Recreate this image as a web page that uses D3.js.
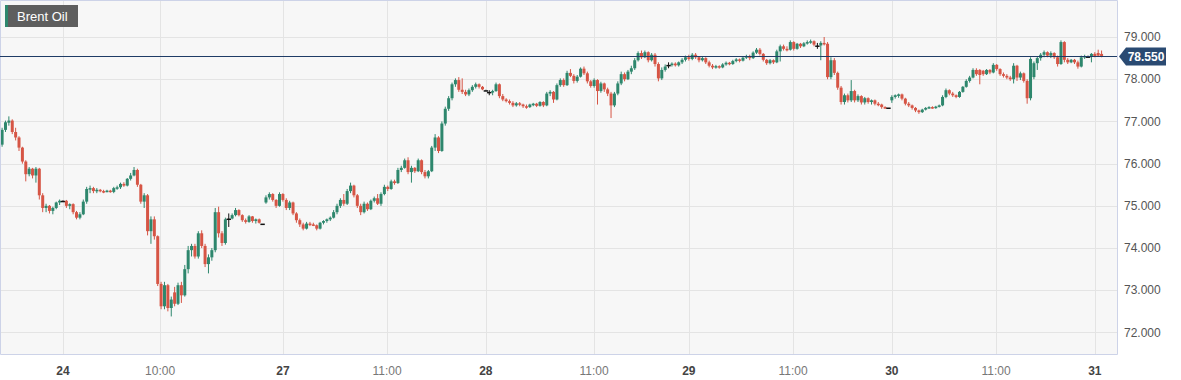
<!DOCTYPE html>
<html>
<head>
<meta charset="utf-8">
<script src="https://cdn.jsdelivr.net/npm/d3@7"></script>
<style>
  body { margin: 0; background: #fff; }
  svg { display: block; font-family: "Liberation Sans", Arial, sans-serif; }
</style>
</head>
<body>
<svg width="1181" height="380"></svg>
<script>
// candles as [open, high, low, close], one array per session
const day23 = [
  [76.45,76.85,76.40,76.80],[76.80,77.02,76.75,76.98],[76.97,77.12,76.90,77.02],[77.02,77.05,76.70,76.75],
  [76.75,76.85,76.55,76.62],[76.62,76.65,76.30,76.38],[76.38,76.40,76.00,76.05],[76.05,76.08,75.58,75.75],
  [75.75,75.92,75.70,75.88],[75.88,75.90,75.65,75.72],[75.72,75.92,75.55,75.88],[75.88,75.90,75.15,75.25],
  [75.25,75.30,74.85,74.95],[74.95,75.05,74.85,75.00],[75.00,75.02,74.82,74.88],[74.88,74.98,74.80,74.95],
  [74.95,75.10,74.92,75.08],[75.08,75.15,75.02,75.12]
];
const day24 = [
  [75.12,75.13,75.11,75.12],[75.12,75.14,74.95,75.00],[75.00,75.06,74.92,75.04],[75.04,75.06,74.80,74.85],
  [74.85,74.88,74.68,74.72],[74.72,74.85,74.68,74.80],[74.80,75.15,74.78,75.10],[75.10,75.45,75.05,75.40],
  [75.40,75.48,75.30,75.42],[75.42,75.45,75.30,75.35],[75.35,75.42,75.30,75.38],[75.38,75.40,75.32,75.35],
  [75.35,75.38,75.30,75.34],[75.34,75.38,75.32,75.36],[75.36,75.38,75.31,75.33],[75.33,75.45,75.30,75.42],
  [75.42,75.48,75.38,75.44],[75.44,75.55,75.40,75.52],[75.52,75.56,75.45,75.48],[75.48,75.66,75.46,75.64],
  [75.64,75.78,75.60,75.72],[75.72,75.92,75.70,75.85],[75.85,75.88,75.45,75.50],[75.50,75.52,75.05,75.10],
  [75.10,75.30,74.95,75.25],[75.25,75.28,74.30,74.40],[74.40,74.75,74.10,74.68],[74.68,74.75,74.20,74.28],
  [74.28,74.30,73.10,73.15],[73.15,73.20,72.55,72.62],[72.62,73.20,72.55,73.12],[73.12,73.15,72.50,72.58],
  [72.58,72.85,72.38,72.78],[72.95,73.08,72.62,72.68],[72.68,73.18,72.65,73.12],[73.12,73.20,72.70,72.88],
  [72.88,73.60,72.85,73.50],[73.50,74.05,73.40,73.95],[73.95,74.10,73.80,74.05],[74.05,74.10,73.75,73.80],
  [73.80,74.40,73.75,74.35],[74.35,74.42,74.00,74.05],[74.05,74.10,73.55,73.62],[73.62,73.85,73.40,73.78],
  [73.78,74.00,73.70,73.95],[73.95,74.95,73.90,74.85],[74.85,74.98,74.25,74.35],[74.35,74.40,74.05,74.12],
  [74.12,74.72,74.08,74.68],[74.70,74.82,74.50,74.70],[74.70,74.82,74.68,74.78],[74.78,74.95,74.75,74.90],
  [74.90,74.92,74.75,74.78],[74.78,74.80,74.62,74.66],[74.66,74.70,74.58,74.62],[74.62,74.78,74.60,74.75],
  [74.75,74.76,74.60,74.64],[74.64,74.70,74.58,74.68],[74.68,74.70,74.58,74.60],[74.58,74.58,74.58,74.58]
];
const day27 = [
  [75.08,75.25,75.05,75.20],[75.20,75.32,75.15,75.28],[75.28,75.30,75.10,75.14],[75.14,75.16,74.95,75.00],
  [75.00,75.32,74.98,75.28],[75.28,75.30,75.10,75.14],[75.14,75.18,74.90,74.95],[74.95,75.12,74.90,75.08],
  [75.08,75.10,74.78,74.82],[74.82,74.85,74.60,74.66],[74.66,74.70,74.50,74.56],[74.56,74.60,74.42,74.46],
  [74.46,74.62,74.44,74.58],[74.58,74.62,74.52,74.56],[74.56,74.60,74.52,74.54],[74.54,74.56,74.42,74.46],
  [74.46,74.62,74.44,74.60],[74.60,74.66,74.56,74.64],[74.64,74.70,74.60,74.68],[74.68,74.75,74.64,74.72],
  [74.72,74.90,74.70,74.85],[74.85,75.05,74.80,75.00],[75.00,75.18,74.95,75.14],[75.14,75.28,75.00,75.05],
  [75.05,75.40,75.02,75.35],[75.35,75.55,75.30,75.48],[75.48,75.50,75.20,75.25],[75.25,75.28,74.95,75.00],
  [75.00,75.05,74.78,74.85],[74.85,75.10,74.82,75.05],[75.05,75.08,74.88,74.92],[74.92,75.15,74.90,75.12],
  [75.12,75.22,75.08,75.18],[75.18,75.28,75.02,75.05],[75.05,75.32,75.00,75.28],[75.28,75.50,75.25,75.45],
  [75.45,75.48,75.35,75.40],[75.40,75.62,75.38,75.58],[75.58,75.62,75.50,75.54],[75.54,75.90,75.52,75.85],
  [75.85,75.95,75.80,75.90],[75.90,76.12,75.88,76.08],[76.08,76.15,75.75,75.80],[75.80,75.95,75.55,75.90],
  [75.90,75.92,75.78,75.82],[75.82,76.12,75.80,76.08],[76.08,76.10,75.75,75.80],[75.80,75.85,75.65,75.70],
  [75.70,75.85,75.65,75.82],[75.82,76.42,75.80,76.38],[76.38,76.70,76.30,76.62],[76.62,76.65,76.25,76.30],
  [76.30,77.00,76.28,76.95],[76.95,77.35,76.90,77.30],[77.30,77.60,77.25,77.55],[77.55,77.92,77.50,77.88],
  [77.88,78.02,77.82,77.98],[77.98,78.05,77.70,77.75],[77.75,78.02,77.65,77.70],[77.70,77.75,77.60,77.64],
  [77.64,77.78,77.60,77.74],[77.74,77.86,77.70,77.82],[77.82,77.92,77.78,77.88],[77.88,77.90,77.78,77.82],
  [77.82,77.84,77.74,77.76]
];
const day28 = [
  [77.74,77.75,77.73,77.74],[77.70,77.74,77.62,77.70],[77.70,77.75,77.62,77.72],[77.72,77.92,77.70,77.88],
  [77.88,77.90,77.55,77.60],[77.60,77.65,77.48,77.52],[77.52,77.55,77.45,77.48],[77.48,77.52,77.40,77.44],
  [77.44,77.48,77.34,77.38],[77.38,77.46,77.35,77.43],[77.43,77.46,77.36,77.40],[77.40,77.42,77.32,77.36],
  [77.36,77.40,77.30,77.34],[77.34,77.42,77.32,77.40],[77.40,77.44,77.36,77.42],[77.42,77.44,77.34,77.37],
  [77.37,77.48,77.35,77.46],[77.46,77.48,77.34,77.38],[77.38,77.70,77.36,77.66],[77.66,77.74,77.60,77.70],
  [77.70,77.72,77.44,77.52],[77.52,77.90,77.50,77.86],[77.86,78.02,77.82,77.98],[77.98,78.02,77.82,77.86],
  [77.86,78.20,77.84,78.15],[78.15,78.24,78.05,78.08],[78.08,78.12,77.90,77.96],[77.96,78.10,77.92,78.06],
  [78.06,78.28,78.04,78.25],[78.25,78.30,78.10,78.14],[78.14,78.18,77.90,77.95],[77.95,77.98,77.80,77.84],
  [77.84,78.02,77.80,77.98],[77.98,78.00,77.40,77.72],[77.72,77.94,77.68,77.90],[77.90,77.92,77.70,77.76],
  [77.76,77.80,77.60,77.66],[77.66,77.70,77.08,77.38],[77.38,77.70,77.34,77.66],[77.66,77.95,77.62,77.90],
  [77.90,78.18,77.86,78.12],[78.12,78.16,77.95,78.00],[78.00,78.22,77.98,78.18],[78.18,78.32,78.12,78.26],
  [78.26,78.50,78.22,78.45],[78.45,78.66,78.42,78.62],[78.62,78.68,78.48,78.52],[78.52,78.68,78.50,78.64],
  [78.64,78.66,78.40,78.45],[78.45,78.62,78.42,78.58],[78.58,78.62,78.30,78.36],[78.36,78.40,77.95,78.02],
  [78.02,78.28,77.98,78.22],[78.22,78.35,78.18,78.30],[78.34,78.40,78.26,78.34],[78.34,78.40,78.30,78.37],
  [78.37,78.40,78.30,78.33],[78.33,78.42,78.30,78.40],[78.40,78.50,78.36,78.46],[78.46,78.56,78.42,78.52]
];
const day29 = [
  [78.52,78.58,78.44,78.48],[78.48,78.62,78.45,78.58],[78.58,78.62,78.48,78.52],[78.52,78.55,78.40,78.45],
  [78.45,78.54,78.42,78.50],[78.50,78.52,78.36,78.40],[78.40,78.44,78.28,78.32],[78.32,78.36,78.24,78.28],
  [78.28,78.34,78.25,78.31],[78.31,78.33,78.25,78.28],[78.28,78.38,78.26,78.35],[78.35,78.42,78.32,78.39],
  [78.39,78.41,78.33,78.36],[78.36,78.46,78.34,78.43],[78.43,78.50,78.40,78.47],[78.47,78.49,78.40,78.44],
  [78.44,78.54,78.42,78.51],[78.51,78.58,78.48,78.55],[78.55,78.58,78.45,78.50],[78.50,78.66,78.48,78.63],
  [78.63,78.74,78.60,78.70],[78.70,78.74,78.56,78.60],[78.60,78.62,78.42,78.46],[78.46,78.48,78.34,78.38],
  [78.38,78.48,78.35,78.45],[78.45,78.47,78.36,78.40],[78.40,78.70,78.38,78.66],[78.66,78.82,78.42,78.78],
  [78.78,78.82,78.68,78.72],[78.72,78.78,78.66,78.70],[78.70,78.92,78.68,78.88],[78.88,78.90,78.68,78.72],
  [78.72,78.86,78.70,78.84],[78.84,78.86,78.74,78.78],[78.78,78.88,78.76,78.85],[78.85,78.92,78.82,78.88],
  [78.88,78.94,78.84,78.90],[78.90,78.92,78.78,78.82],[78.80,78.86,78.72,78.80],[78.80,78.90,78.45,78.86],
  [78.86,79.00,78.80,78.84],[78.84,78.88,78.00,78.05],[78.05,78.52,78.00,78.45],[78.45,78.50,78.10,78.15],
  [78.15,78.18,77.75,77.80],[77.80,77.84,77.40,77.46],[77.46,77.66,77.40,77.62],[77.62,77.66,77.45,77.50],
  [77.50,77.98,77.46,77.72],[77.72,77.75,77.45,77.50],[77.50,77.64,77.46,77.60],[77.60,77.62,77.40,77.45],
  [77.45,77.58,77.40,77.55],[77.55,77.57,77.42,77.46],[77.46,77.52,77.40,77.50],[77.50,77.52,77.38,77.42],
  [77.42,77.46,77.36,77.40],[77.40,77.42,77.30,77.34],[77.34,77.36,77.30,77.32],[77.33,77.33,77.33,77.33]
];
const day30 = [
  [77.50,77.62,77.44,77.58],[77.58,77.64,77.54,77.62],[77.62,77.66,77.56,77.64],[77.64,77.66,77.50,77.54],
  [77.54,77.56,77.38,77.42],[77.42,77.46,77.34,77.38],[77.38,77.40,77.28,77.32],[77.32,77.34,77.22,77.26],
  [77.26,77.28,77.18,77.22],[77.22,77.30,77.20,77.28],[77.28,77.34,77.26,77.32],[77.32,77.36,77.30,77.34],
  [77.34,77.36,77.30,77.32],[77.32,77.37,77.30,77.35],[77.35,77.40,77.33,77.38],[77.38,77.62,77.36,77.58],
  [77.58,77.78,77.55,77.74],[77.74,77.76,77.62,77.66],[77.66,77.70,77.58,77.62],[77.62,77.64,77.55,77.58],
  [77.58,77.72,77.56,77.70],[77.70,77.84,77.68,77.82],[77.82,78.00,77.80,77.96],[77.96,78.08,77.92,78.04],
  [78.04,78.26,78.02,78.22],[78.22,78.26,78.08,78.12],[78.22,78.24,77.88,78.10],[78.20,78.22,78.08,78.12],
  [78.12,78.24,78.10,78.22],[78.22,78.24,78.12,78.16],[78.16,78.38,78.14,78.34],[78.34,78.36,78.20,78.24],
  [78.24,78.26,78.08,78.12],[78.12,78.16,78.04,78.08],[78.08,78.12,78.00,78.04],[78.04,78.08,77.96,78.00],
  [78.00,78.38,77.90,78.32],[78.32,78.34,77.96,78.04],[78.04,78.18,77.98,78.14],[78.14,78.16,77.92,77.96],
  [77.96,78.00,77.42,77.55],[77.55,78.52,77.50,78.48],[78.05,78.42,78.00,78.38],[78.38,78.54,78.22,78.50],
  [78.50,78.62,78.44,78.58],[78.58,78.68,78.52,78.64],[78.64,78.66,78.52,78.56],[78.56,78.66,78.50,78.62],
  [78.62,78.64,78.48,78.52],[78.52,78.56,78.30,78.36],[78.36,78.92,78.34,78.88],[78.88,78.90,78.40,78.46],
  [78.46,78.50,78.36,78.40],[78.40,78.48,78.38,78.46],[78.46,78.48,78.36,78.40],[78.40,78.44,78.25,78.30],
  [78.30,78.56,78.28,78.52],[78.52,78.58,78.48,78.55],[78.54,78.56,78.52,78.54],[78.54,78.62,78.40,78.60]
];
const day31 = [
  [78.60,78.64,78.52,78.55],[78.62,78.70,78.54,78.56],[78.60,78.68,78.52,78.55]
];

const lastPrice = 78.55;
const yTicks = [72, 73, 74, 75, 76, 77, 78, 79];
const xTickIdx = [18, 46.7, 83, 113.8, 143, 175, 203, 233.8, 263, 293.8, 323];
const xTickText = ["24", "10:00", "27", "11:00", "28", "11:00", "29", "11:00", "30", "11:00", "31"];
const xTickIsDay = [true, false, true, false, true, false, true, false, true, false, true];

const candles = [].concat(day23, day24, day27, day28, day29, day30, day31);

const svg = d3.select("svg");
const plotW = 1117, plotH = 354;
const green = "#2e876d", red = "#d65545";

const x = d3.scaleLinear().domain([0, candles.length - 1]).range([2.1, 2.1 + (candles.length - 1) * 3.383]);
const y = d3.scaleLinear().domain([71.49, 79.877]).range([plotH, 0]);

// plot background
svg.append("rect").attr("x", 0).attr("y", 0).attr("width", plotW).attr("height", plotH).attr("fill", "#f7f7f7");

// grid
svg.append("g").selectAll("line").data(yTicks).enter().append("line")
  .attr("x1", 0).attr("x2", plotW)
  .attr("y1", d => Math.round(y(d)) + 0.5).attr("y2", d => Math.round(y(d)) + 0.5)
  .attr("stroke", "#e4e4e4");
svg.append("g").selectAll("line").data(xTickIdx).enter().append("line")
  .attr("y1", 0).attr("y2", plotH)
  .attr("x1", d => Math.round(x(d)) + 0.5).attr("x2", d => Math.round(x(d)) + 0.5)
  .attr("stroke", "#e4e4e4");

// candles
const color = d => d[3] > d[0] ? green : (d[3] < d[0] ? red : "#111");
const cg = svg.append("g");
cg.selectAll(".wick").data(candles).enter().append("line")
  .attr("x1", (d, i) => x(i)).attr("x2", (d, i) => x(i))
  .attr("y1", d => y(d[1])).attr("y2", d => y(d[2]))
  .attr("stroke", color).attr("stroke-width", 1);
cg.selectAll(".body").data(candles).enter().append("rect")
  .attr("x", (d, i) => x(i) - (d[0] === d[3] ? 2.2 : 1.5))
  .attr("width", d => d[0] === d[3] ? 4.4 : 3)
  .attr("y", d => y(Math.max(d[0], d[3])))
  .attr("height", d => Math.max(1.5, Math.abs(y(d[0]) - y(d[3]))))
  .attr("fill", color);

// frame
svg.append("path")
  .attr("d", `M0.5,0.5V${plotH + 0.5}H${plotW + 0.5}V0.5H0.5`)
  .attr("fill", "none").attr("stroke", "#cdd3e8");

// last price line and tag
const py = Math.round(y(lastPrice)) + 0.5;
svg.append("line").attr("x1", 0).attr("x2", plotW).attr("y1", py).attr("y2", py)
  .attr("stroke", "#1f3c66").attr("stroke-width", 1.2);
svg.append("path")
  .attr("d", `M1119,${py}L1126,${py - 9}H1166V${py + 9}H1126Z`)
  .attr("fill", "#2a4a72");
svg.append("text").attr("x", 1146).attr("y", py).attr("dy", "0.36em")
  .attr("text-anchor", "middle").attr("fill", "#fff")
  .attr("font-size", 12).attr("font-weight", "bold")
  .text(d3.format(".3f")(lastPrice));

// y axis labels
svg.append("g").selectAll("text").data(yTicks).enter().append("text")
  .attr("x", 1124).attr("y", d => y(d)).attr("dy", "0.35em")
  .attr("font-size", 12).attr("fill", "#555")
  .text(d => d3.format(".3f")(d));

// x axis labels
svg.append("g").selectAll("text").data(xTickIdx).enter().append("text")
  .attr("x", d => x(d)).attr("y", 371).attr("dy", "0.35em")
  .attr("text-anchor", "middle").attr("font-size", 12)
  .attr("font-weight", (d, i) => xTickIsDay[i] ? "bold" : "normal")
  .attr("fill", (d, i) => xTickIsDay[i] ? "#444" : "#777")
  .text((d, i) => xTickText[i]);

// legend
const lg = svg.append("g");
lg.append("rect").attr("x", 5).attr("y", 5).attr("width", 73).attr("height", 22).attr("fill", "#5e5e5e");
lg.append("rect").attr("x", 5).attr("y", 5).attr("width", 3).attr("height", 22).attr("fill", green);
lg.append("text").attr("x", 17).attr("y", 16).attr("dy", "0.35em")
  .attr("fill", "#fff").attr("font-size", 13).text("Brent Oil");
</script>
</body>
</html>
